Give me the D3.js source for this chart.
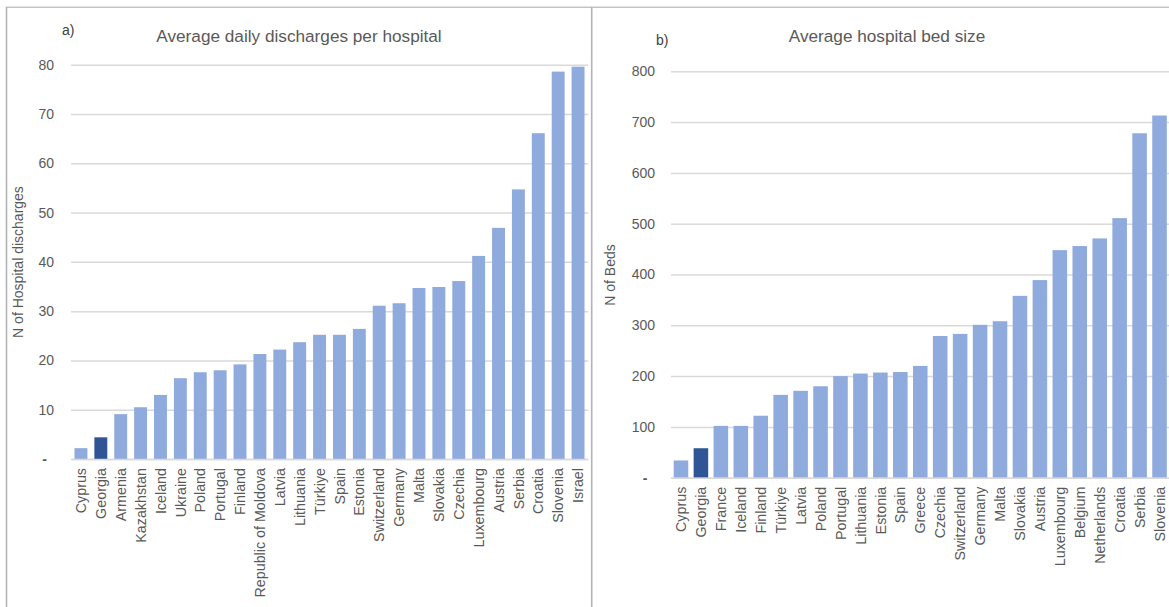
<!DOCTYPE html>
<html>
<head>
<meta charset="utf-8">
<script src="https://cdn.jsdelivr.net/npm/d3@7"></script>
<style>
  html, body { margin: 0; padding: 0; background: #fff; }
  svg { display: block; font-family: "Liberation Sans", Arial, sans-serif; }
</style>
</head>
<body>
<svg id="chart" width="1169" height="607"></svg>
<script>
// Panel a) average daily discharges per hospital
const countriesA = ["Cyprus","Georgia","Armenia","Kazakhstan","Iceland","Ukraine","Poland","Portugal","Finland","Republic of Moldova","Latvia","Lithuania","Türkiye","Spain","Estonia","Switzerland","Germany","Malta","Slovakia","Czechia","Luxembourg","Austria","Serbia","Croatia","Slovenia","Israel"];
const dischargesA = [2.2,4.4,9.1,10.5,13.0,16.4,17.6,18.0,19.2,21.3,22.2,23.7,25.2,25.2,26.4,31.1,31.6,34.7,34.9,36.1,41.2,46.9,54.7,66.1,78.6,79.6];
const ticksA = [0,10,20,30,40,50,60,70,80];

// Panel b) average hospital bed size
const countriesB = ["Cyprus","Georgia","France","Iceland","Finland","Türkiye","Latvia","Poland","Portugal","Lithuania","Estonia","Spain","Greece","Czechia","Switzerland","Germany","Malta","Slovakia","Austria","Luxembourg","Belgium","Netherlands","Croatia","Serbia","Slovenia"];
const bedsB = [34,58,102,102,122,163,171,180,200,205,207,208,220,279,283,301,308,358,389,448,456,471,511,678,713];
const ticksB = [0,100,200,300,400,500,600,700,800];

const highlight = "Georgia";
const barColor = "#8faadc";
const highlightColor = "#2f5597";
const textColor = "#595959";
const gridColor = "#d9d9d9";

const svg = d3.select("#chart");

// Frame lines around the two panels
const frame = svg.append("g").attr("stroke", "#b4b4b4").attr("stroke-width", 1.6);
frame.append("line").attr("x1", 6).attr("x2", 1169).attr("y1", 7.3).attr("y2", 7.3).attr("stroke", "#c4c4c4");
frame.append("line").attr("x1", 6.5).attr("x2", 6.5).attr("y1", 7).attr("y2", 607);
frame.append("line").attr("x1", 591.7).attr("x2", 591.7).attr("y1", 7).attr("y2", 607);

function drawPanel(cfg) {
  const g = svg.append("g");
  const x = d3.scaleBand().domain(cfg.categories).range(cfg.xRange)
    .paddingInner(cfg.pad).paddingOuter(cfg.pad / 2);
  const y = d3.scaleLinear().domain([0, cfg.ticks[cfg.ticks.length - 1]]).range(cfg.yRange);

  // horizontal gridlines with value labels
  const yAxis = d3.axisLeft(y).tickValues(cfg.ticks)
    .tickSize(-(cfg.xRange[1] - cfg.xRange[0]))
    .tickPadding(cfg.labelGap)
    .tickFormat(d => d === 0 ? "-" : d3.format("d")(d));
  const ya = g.append("g").attr("transform", `translate(${cfg.xRange[0]},0)`).call(yAxis);
  ya.select(".domain").remove();
  ya.selectAll(".tick line").attr("stroke", gridColor).attr("stroke-width", 1.5);
  ya.selectAll(".tick text").attr("fill", textColor).style("font-size", "14px");
  ya.selectAll(".tick").filter(d => d === 0).select("text")
    .attr("text-anchor", "middle").attr("x", cfg.dashX - cfg.xRange[0]).style("font-weight", "bold");

  // bars
  g.append("g").selectAll("rect").data(cfg.values).join("rect")
    .attr("x", (d, i) => x(cfg.categories[i]))
    .attr("width", x.bandwidth())
    .attr("y", d => y(d))
    .attr("height", d => y(0) - y(d))
    .attr("fill", (d, i) => cfg.categories[i] === highlight ? highlightColor : barColor);

  // category axis
  const xAxis = d3.axisBottom(x).tickSize(0).tickPadding(0);
  const xa = g.append("g").attr("transform", `translate(0,${y(0)})`).call(xAxis);
  xa.select(".domain").attr("stroke", gridColor).attr("stroke-width", 1.6);
  xa.selectAll(".tick text")
    .attr("fill", textColor).style("font-size", "14.3px")
    .attr("text-anchor", "end")
    .attr("transform", "rotate(-90)")
    .attr("x", -9).attr("y", 0).attr("dy", "0.36em");

  // axis title
  g.append("text")
    .attr("transform", `translate(${cfg.yTitleX},${cfg.yTitleY}) rotate(-90)`)
    .attr("text-anchor", "middle").attr("fill", textColor).style("font-size", "14px")
    .text(cfg.yTitle);

  // chart title and panel letter
  g.append("text").attr("x", cfg.titleX).attr("y", 42).attr("text-anchor", "middle")
    .attr("fill", textColor).style("font-size", "17.2px").text(cfg.title);
  g.append("text").attr("x", cfg.letterX).attr("y", cfg.letterY)
    .attr("fill", "#404040").style("font-size", "14px").text(cfg.letter);
}

drawPanel({
  categories: countriesA, values: dischargesA, ticks: ticksA,
  xRange: [71, 588], yRange: [459, 64.7], pad: 0.35,
  labelGap: 17, dashX: 44.5,
  yTitle: "N of Hospital discharges", yTitleX: 23, yTitleY: 262,
  title: "Average daily discharges per hospital", titleX: 299,
  letter: "a)", letterX: 62, letterY: 35
});

drawPanel({
  categories: countriesB, values: bedsB, ticks: ticksB,
  xRange: [671, 1169.5], yRange: [477.7, 71.3], pad: 0.27,
  labelGap: 16, dashX: 645,
  yTitle: "N of Beds", yTitleX: 615, yTitleY: 275,
  title: "Average hospital bed size", titleX: 887,
  letter: "b)", letterX: 656, letterY: 45
});
</script>
</body>
</html>
